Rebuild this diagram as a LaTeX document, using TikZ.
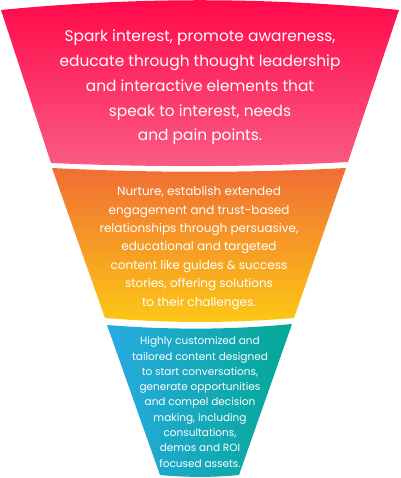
\documentclass[tikz,border=0pt]{standalone}
\usepackage{fontspec}
\setmainfont{Poppins}
\definecolor{pinkTop}{RGB}{255,8,72}
\definecolor{pinkBot}{RGB}{250,92,132}
\definecolor{oraTop}{RGB}{240,110,52}
\definecolor{oraBot}{RGB}{252,200,22}
\definecolor{bluL}{RGB}{40,170,226}
\definecolor{bluR}{RGB}{4,168,148}
\tikzset{
  x=1pt,y=1pt,
  funtext/.style={text=white, align=center, inner sep=0pt},
}
\begin{document}
\begin{tikzpicture}
\useasboundingbox (0,0) rectangle (400,478);
% top section
\shade[top color=pinkTop, bottom color=pinkBot]
  (1,468) .. controls (134,481) and (266,481) .. (399,468)
  -- (348,316) .. controls (250,310.7) and (150,310.7) .. (51,315) -- cycle;
% middle section
\shade[top color=oraTop, bottom color=oraBot]
  (52,310) .. controls (150,305) and (250,305) .. (346,310)
  -- (294,160) .. controls (230,154.7) and (170,154.7) .. (105,160) -- cycle;
% bottom section
\shade[left color=bluL, right color=bluR]
  (107,153) .. controls (170,148) and (230,148) .. (292,154)
  -- (239,3) .. controls (215,0.5) and (185,0.5) .. (160,3) -- cycle;
% texts
\node[funtext, font=\fontsize{15.4}{24.75}\selectfont] (t1) at (200,390.5)
  {Spark interest, promote awareness,\\educate through thought leadership\\and interactive elements that\\speak to interest, needs\\and pain points.};
\node[funtext, font=\fontsize{12}{18.4}\selectfont] (t2) at (199,230)
  {Nurture, establish extended\\engagement and trust-based\\relationships through persuasive,\\educational and targeted\\content like guides \& success\\stories, offering solutions\\to their challenges.};
\node[funtext, font=\fontsize{10.5}{15.3}\selectfont] (t3) at (200,76)
  {Highly customized and\\tailored content designed\\to start conversations,\\generate opportunities\\and compel decision\\making, including\\consultations,\\demos and ROI\\focused assets.};
\end{tikzpicture}
\end{document}
